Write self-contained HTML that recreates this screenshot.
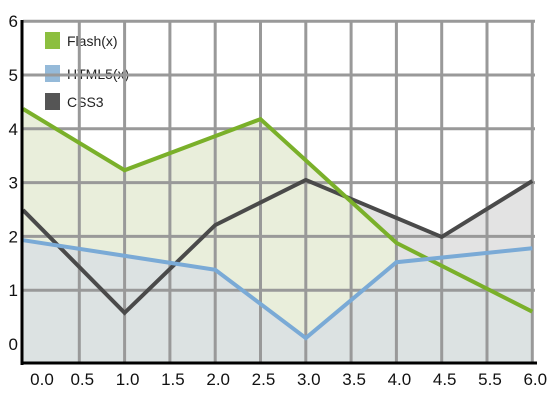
<!DOCTYPE html>
<html><head><meta charset="utf-8"><style>
html,body{margin:0;padding:0;background:#fff;}
svg{display:block;font-family:"Liberation Sans",sans-serif;}
</style></head><body>
<svg id="chart" width="550" height="400" viewBox="0 0 550 400"></svg>
<script>
const xLabels = ["0.0","0.5","1.0","1.5","2.0","2.5","3.0","3.5","4.0","4.5","5.5","6.0"];
const yTicks = [0,1,2,3,4,5,6];
const flashX = ["0.0","1.0","2.5","4.0","6.0"];
const flashY = [4.37,3.23,4.18,1.88,0.6];
const htmlX = ["0.0","2.0","3.0","4.0","6.0"];
const htmlY = [1.93,1.38,0.11,1.52,1.78];
const cssX = ["0.0","1.0","2.0","3.0","4.5","6.0"];
const cssY = [2.49,0.58,2.21,3.05,1.99,3.03];

const NS="http://www.w3.org/2000/svg";
const svg=document.getElementById('chart');
function xs(lbl){const i=xLabels.indexOf(lbl);return i===0?23:34+i*45.3;}
function ys(v){return 344-v*53.8;}
const bottom=363;
function mk(tag,attrs,parent){const e=document.createElementNS(NS,tag);for(const k in attrs)e.setAttribute(k,attrs[k]);(parent||svg).appendChild(e);return e;}
function areaPath(X,Y){
  let d="M"+xs(X[0])+","+bottom;
  X.forEach((x,i)=>{d+=" L"+xs(x)+","+ys(Y[i]);});
  return d+" L"+xs(X[X.length-1])+","+bottom+" Z";
}
const c1=mk('path',{d:areaPath(cssX,cssY),fill:"#e3e3e3"});


const f1=mk('path',{d:areaPath(flashX.slice(0,-1),flashY.slice(0,-1)),fill:"#e9eedb"});


const h1=mk('path',{d:areaPath(htmlX,htmlY),fill:"#dce2e2"});


// legend (drawn under grid as in reference)
const legend=[["Flash(x)","#8cbf3f",32],["HTML5(x)","#95bad9",65],["CSS3","#555",93]];
legend.forEach(([txt,col,y])=>{
  const g=mk('g',{});
  
  
  mk('rect',{x:45,y:y,width:15,height:17,fill:col},g);
  const t=mk('text',{x:67,y:y+14,'font-size':14,fill:"#222"},g);
  t.textContent=txt;
});
// grid
yTicks.forEach(v=>{
  if(v===0)return;
  const l=mk('line',{x1:23,x2:535,y1:ys(v),y2:ys(v),stroke:"#999",'stroke-width':3});
  
  
});
xLabels.forEach((lb,i)=>{
  if(i===0)return;
  const l=mk('line',{x1:xs(lb),x2:xs(lb),y1:ys(6)-1,y2:bottom,stroke:"#999",'stroke-width':3});
  
  
});
// lines
const series=[
 {name:"css3",xs:cssX,ys:cssY,stroke:"#4a4a4a"},
 {name:"flash",xs:flashX,ys:flashY,stroke:"#7ab02a"},
 {name:"html5",xs:htmlX,ys:htmlY,stroke:"#7aaad6"}
];
series.forEach(s=>{
  const pts=s.xs.map((x,i)=>xs(x)+","+ys(s.ys[i])).join(" ");
  const p=mk('polyline',{points:pts,fill:"none",stroke:s.stroke,'stroke-width':4});
  
  
});
// axes
const ya=mk('line',{x1:22,x2:22,y1:20,y2:bottom+2,stroke:"#000",'stroke-width':3});


const xa=mk('line',{x1:21,x2:537,y1:bottom,y2:bottom,stroke:"#000",'stroke-width':3});


// tick labels
yTicks.forEach(v=>{
  const t=mk('text',{x:18,y:ys(v)+6,'text-anchor':"end",'font-size':17,fill:"#111"});
  t.textContent=String(v);
  
  
});
xLabels.forEach((lb,i)=>{
  const t=mk('text',{x:i===0?42:xs(lb)+3,y:385,'text-anchor':"middle",'font-size':17,fill:"#111"});
  t.textContent=lb;
  
  
});
</script>
</body></html>
